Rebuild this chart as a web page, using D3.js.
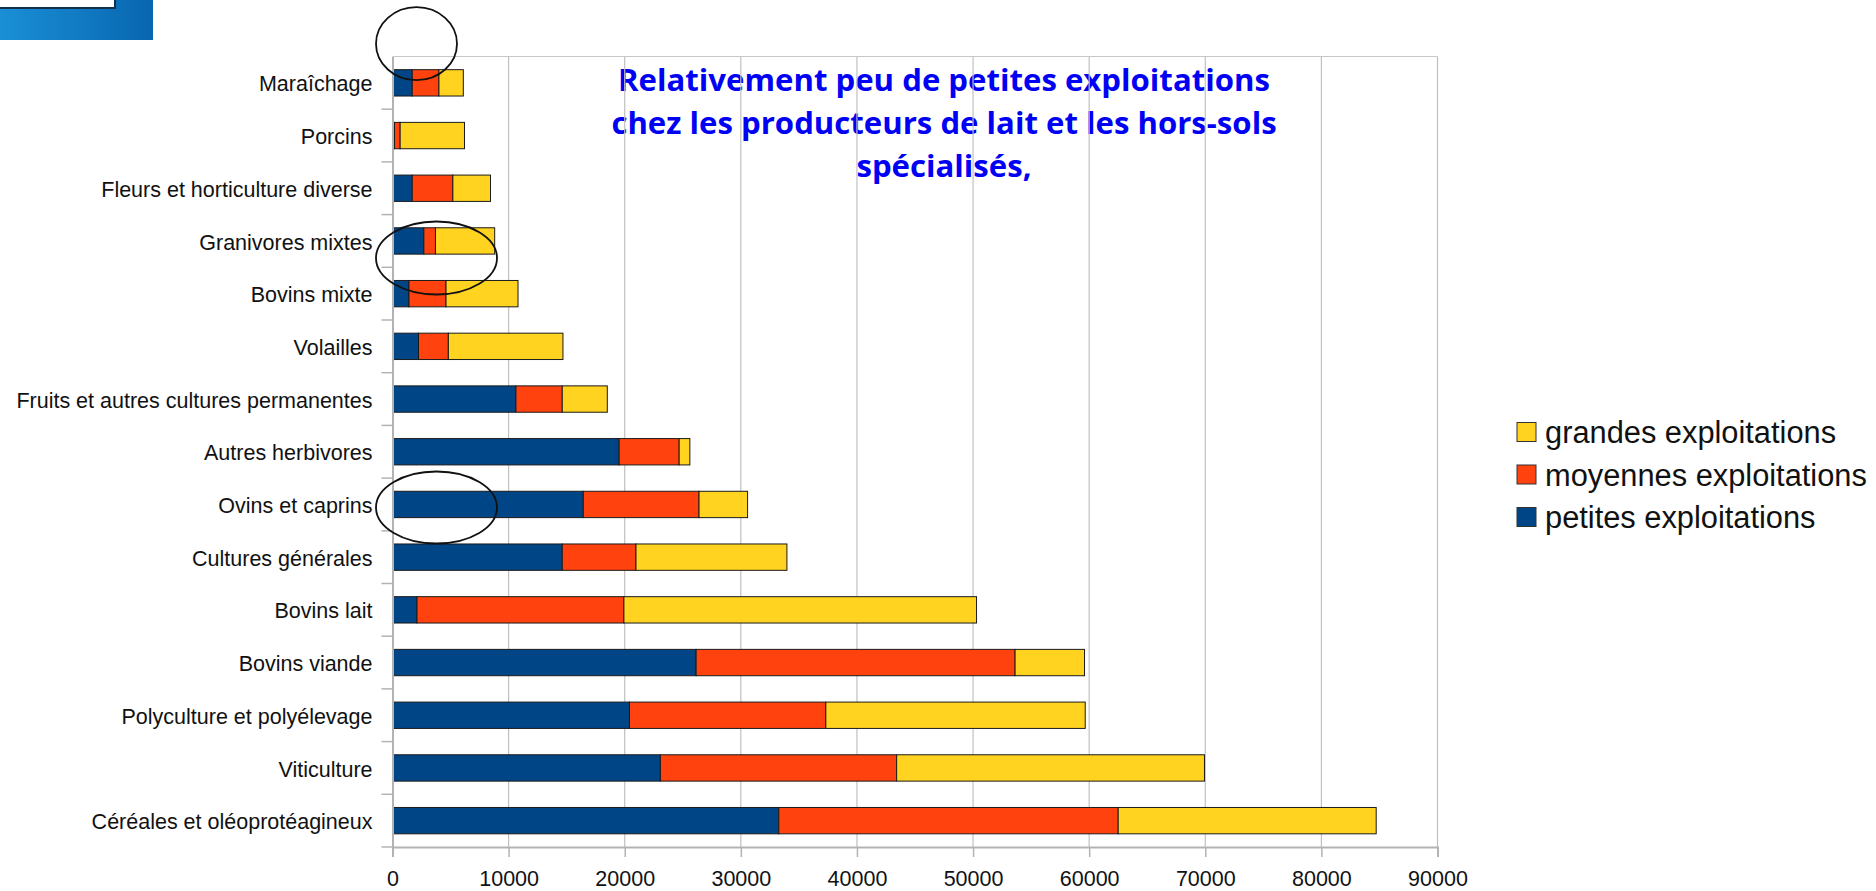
<!DOCTYPE html>
<html>
<head>
<meta charset="utf-8">
<script src="https://cdn.jsdelivr.net/npm/d3@7"></script>
<style>
  body { margin: 0; background: #fff; }
</style>
</head>
<body>
<div id="chart"></div>
<script>
var width = 1876;
var height = 891;

// categories, top to bottom
var categories = ["Maraîchage", "Porcins", "Fleurs et horticulture diverse", "Granivores mixtes",
    "Bovins mixte", "Volailles", "Fruits et autres cultures permanentes", "Autres herbivores",
    "Ovins et caprins", "Cultures générales", "Bovins lait", "Bovins viande",
    "Polyculture et polyélevage", "Viticulture", "Céréales et oléoprotéagineux"];

var petites = [1700, 170, 1700, 2700, 1420, 2240, 10630, 19520, 16430, 14620, 2110, 26150, 20410, 23070, 33270];
var moyennes = [2300, 490, 3500, 1000, 3190, 2570, 3990, 5170, 9970, 6350, 17820, 27470, 16910, 20350, 29230];
var grandes = [2100, 5540, 3240, 5100, 6200, 9870, 3880, 920, 4180, 13000, 30370, 5980, 22340, 26510, 22220];

var seriesNames = ["petites exploitations", "moyennes exploitations", "grandes exploitations"];
var seriesColors = ["#004586", "#ff420e", "#ffd320"];
var xTicks = [0, 10000, 20000, 30000, 40000, 50000, 60000, 70000, 80000, 90000];

var titleLines = ["Relativement peu de petites exploitations",
    "chez les producteurs de lait et les hors-sols",
    "spécialisés,"];

var margin = {left: 392.5, right: 1437.5, top: 56.5, bottom: 847};
var labelFont = "'Liberation Sans', Arial, sans-serif";
var svgElement;

function main() {
    svgElement = d3.select("#chart").append("svg")
        .attr("width", width)
        .attr("height", height);

    drawCorner();

    var x = d3.scaleLinear().domain([0, 90000]).range([margin.left, margin.right]);
    var y = d3.scaleBand().domain(categories).range([margin.top, margin.bottom]).paddingInner(0.5).paddingOuter(0.25);

    // the title sits behind the grid in the original
    drawTitle();

    // grid
    svgElement.append("g").selectAll("line")
        .data(xTicks.slice(1))
        .join("line")
        .attr("x1", d => x(d)).attr("x2", d => x(d))
        .attr("y1", margin.top).attr("y2", margin.bottom)
        .attr("stroke", "#c0c0c0").attr("stroke-width", 1.2);
    svgElement.append("line")
        .attr("x1", margin.left).attr("x2", margin.right)
        .attr("y1", margin.top).attr("y2", margin.top)
        .attr("stroke", "#c8c8c8").attr("stroke-width", 1.2);

    // stacked bars
    var rows = categories.map(function (c, i) {
        return {cat: c, p: petites[i], m: moyennes[i], g: grandes[i]};
    });
    var stack = d3.stack().keys(["p", "m", "g"]);
    var layers = stack(rows);

    svgElement.append("g").selectAll("g")
        .data(layers)
        .join("g")
        .attr("fill", (d, i) => seriesColors[i])
        .selectAll("rect")
        .data(d => d)
        .join("rect")
        .attr("x", d => x(d[0]))
        .attr("width", d => x(d[1]) - x(d[0]))
        .attr("y", d => y(d.data.cat))
        .attr("height", y.bandwidth())
        .attr("stroke", "#1a1a1a")
        .attr("stroke-width", 1);

    // x axis
    var xAxis = svgElement.append("g")
        .attr("transform", "translate(0," + margin.bottom + ")")
        .call(d3.axisBottom(x).tickValues(xTicks).tickSize(10).tickPadding(14).tickFormat(d3.format("d")));
    xAxis.select(".domain").attr("stroke", "#b3b3b3").attr("stroke-width", 2);
    xAxis.selectAll(".tick line").attr("stroke", "#b3b3b3").attr("stroke-width", 1.5);
    xAxis.selectAll("text").attr("fill", "#111")
        .style("font-size", "21.5px").style("font-family", labelFont);

    // y axis: labels at band centres, ticks at band boundaries
    var yAxis = svgElement.append("g")
        .attr("transform", "translate(" + margin.left + ",0)")
        .call(d3.axisLeft(y).tickSize(0).tickPadding(20));
    yAxis.select(".domain").attr("stroke", "#b3b3b3").attr("stroke-width", 2);
    yAxis.selectAll("text").attr("fill", "#111")
        .attr("dy", "0.4em")
        .style("font-size", "21.5px").style("font-family", labelFont);

    var step = y.step();
    var bounds = categories.slice(1).map(c => y(c) - step * 0.25).concat([margin.bottom]);
    svgElement.append("g").selectAll("line")
        .data(bounds)
        .join("line")
        .attr("x1", margin.left - 11).attr("x2", margin.left)
        .attr("y1", d => d).attr("y2", d => d)
        .attr("stroke", "#b3b3b3").attr("stroke-width", 1.5);

    drawLegend();
    drawAnnotations();
}

function drawCorner() {
    var defs = svgElement.append("defs");
    var grad = defs.append("linearGradient").attr("id", "cornerGrad")
        .attr("x1", "0%").attr("x2", "100%").attr("y1", "0%").attr("y2", "0%");
    grad.append("stop").attr("offset", "0%").attr("stop-color", "#1a8fd6");
    grad.append("stop").attr("offset", "100%").attr("stop-color", "#0866b0");
    svgElement.append("rect").attr("x", 0).attr("y", 0).attr("width", 153).attr("height", 40)
        .attr("fill", "url(#cornerGrad)");
    svgElement.append("rect").attr("x", -2).attr("y", -2).attr("width", 117).attr("height", 10)
        .attr("fill", "#fff").attr("stroke", "#12304f").attr("stroke-width", 2);
}

function drawTitle() {
    var g = svgElement.append("g");
    var t = g.selectAll("text")
        .data(titleLines)
        .join("text")
        .attr("x", 0)
        .attr("y", (d, i) => i * 43)
        .attr("text-anchor", "middle")
        .style("font-family", "'Open Sans', 'Noto Sans', sans-serif")
        .style("font-weight", "bold")
        .style("font-size", "29.5px")
        .attr("fill", "#0000f5")
        .text(d => d);
    var w = t.nodes()[0].getComputedTextLength();
    var sx = 652 / w;
    g.attr("transform", "translate(944,91) scale(" + sx + ",1)");
}

function drawLegend() {
    var order = [2, 1, 0];
    var lg = svgElement.append("g");
    order.forEach(function (s, i) {
        var cy = 432 + i * 42.5;
        lg.append("rect")
            .attr("x", 1517).attr("y", cy - 9.5)
            .attr("width", 19).attr("height", 19)
            .attr("fill", seriesColors[s])
            .attr("stroke", "#333").attr("stroke-width", 1);
        lg.append("text")
            .attr("x", 1545).attr("y", cy)
            .attr("dy", "0.36em")
            .style("font-size", "30.8px")
            .style("font-family", labelFont)
            .attr("fill", "#111")
            .text(seriesNames[s]);
    });
}

function drawAnnotations() {
    var ellipses = [
        {cx: 416.5, cy: 43.7, rx: 40.5, ry: 36.5},
        {cx: 436.5, cy: 258, rx: 60.5, ry: 36.5},
        {cx: 436.5, cy: 507.5, rx: 60.5, ry: 36}
    ];
    svgElement.append("g").selectAll("ellipse")
        .data(ellipses)
        .join("ellipse")
        .attr("cx", d => d.cx).attr("cy", d => d.cy)
        .attr("rx", d => d.rx).attr("ry", d => d.ry)
        .attr("fill", "none")
        .attr("stroke", "#111")
        .attr("stroke-width", 1.8);
}

main();
</script>
</body>
</html>
